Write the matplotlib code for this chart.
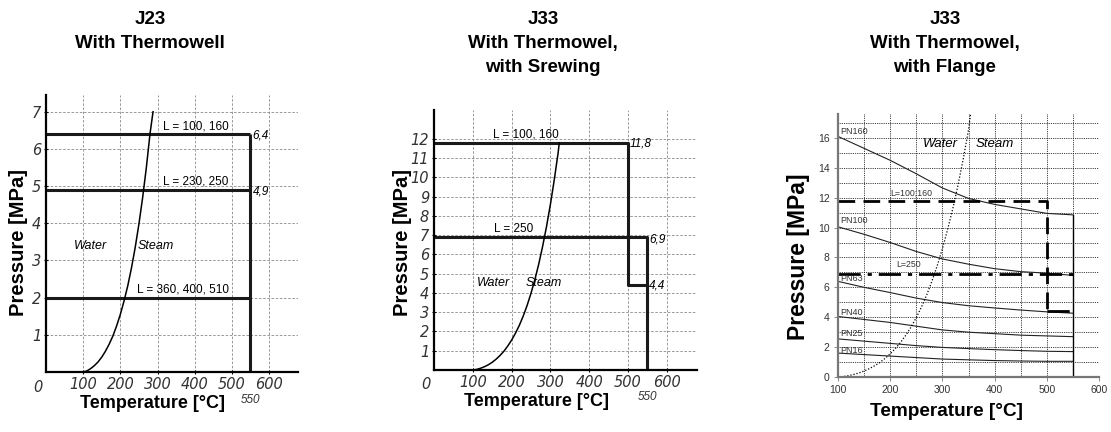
import numpy as np
import matplotlib
matplotlib.use("Agg")
import matplotlib.pyplot as plt

plt.rcParams['font.family'] = ['Liberation Sans', 'DejaVu Sans']

# saturation curve (water / steam boundary)
sat_T = [100, 110, 120, 130, 140, 150, 160, 170, 180, 190, 200, 210, 220, 230,
         240, 250, 260, 270, 280, 290, 300, 310, 320, 330, 340, 350]
sat_p = [0.0, 0.03, 0.09, 0.17, 0.27, 0.40, 0.56, 0.75, 0.97, 1.24, 1.55, 1.91,
         2.32, 2.80, 3.35, 3.98, 4.69, 5.50, 6.42, 7.44, 8.59, 9.87, 11.28,
         12.86, 14.60, 16.53]

# J23
j23_limits = [6.4, 4.9, 2.0]
j23_labels = ["L = 100, 160", "L = 230, 250", "L = 360, 400, 510"]
j23_values = ["6,4", "4,9"]
j23_tmax = 550
j23_curve_end = (288, 7.0)

# J33 screwed
j33s_T_a = [0, 500, 500, 550]
j33s_p_a = [11.8, 11.8, 4.4, 4.4]
j33s_T_b = [0, 550, 550]
j33s_p_b = [6.9, 6.9, 0]
j33s_curve_end = (323, 11.8)

# J33 flange
pn_T = [100, 150, 200, 250, 300, 350, 400, 450, 500, 550]
pn_names = ["PN160", "PN100", "PN63", "PN40", "PN25", "PN16"]
pn_p = [
    [16.1, 15.3, 14.5, 13.6, 12.65, 11.95, 11.55, 11.25, 10.95, 10.85],
    [10.05, 9.55, 9.0, 8.4, 7.9, 7.55, 7.25, 7.05, 6.95, 6.8],
    [6.4, 6.0, 5.65, 5.28, 4.98, 4.77, 4.62, 4.48, 4.36, 4.27],
    [4.05, 3.85, 3.65, 3.4, 3.15, 3.0, 2.9, 2.8, 2.75, 2.7],
    [2.55, 2.4, 2.25, 2.1, 1.98, 1.9, 1.83, 1.77, 1.72, 1.7],
    [1.6, 1.5, 1.4, 1.3, 1.2, 1.15, 1.1, 1.07, 1.05, 1.05],
]
pn_label_p = [16.45, 10.45, 6.6, 4.3, 2.9, 1.8]
fl_T_a = [100, 500, 500]
fl_p_a = [11.8, 11.8, 4.4]
fl_T_b = [100, 550]
fl_p_b = [6.9, 6.9]
fl_T_c = [500, 550]
fl_p_c = [4.4, 4.4]
fl_curve_end = (354, 17.6)

W, H = 1111, 432
fig = plt.figure(figsize=(W / 100, H / 100), dpi=100)
TICKFONT = dict(family='DejaVu Sans', style='italic', size=10.5)


def box(l, r, top, bot):
    return [l / W, (H - bot) / H, (r - l) / W, (bot - top) / H]


def curve_to(end):
    T = [t for t, p in zip(sat_T, sat_p) if p < end[1]] + [end[0]]
    P = [p for p in sat_p if p < end[1]] + [end[1]]
    return T, P


def style_simple(ax, xmax, ymax, yticks):
    ax.set_xlim(0, xmax)
    ax.set_ylim(0, ymax)
    for s in ['top', 'right']:
        ax.spines[s].set_visible(False)
    for s in ['left', 'bottom']:
        ax.spines[s].set_linewidth(1.6)
    ax.set_xticks([100, 200, 300, 400, 500, 600])
    ax.set_yticks(yticks)
    ax.grid(True, color='#888888', linestyle=(0, (3, 2)), linewidth=0.6)
    ax.tick_params(length=3, direction='inout', width=0.8, pad=2)
    for lab in ax.get_xticklabels() + ax.get_yticklabels():
        lab.set_fontproperties(TICKFONT)
        lab.set_color('#333333')
    ax.text(-0.015, -0.028, "0", transform=ax.transAxes, ha='right', va='top',
            color='#333333', **TICKFONT)
    ax.text(550, -0.08, "550", transform=ax.get_xaxis_transform(),
            ha='center', va='top', fontsize=8.5, style='italic', color='#333333')


# ---- J23 ----
ax1 = fig.add_axes(box(46, 298, 95, 372))
style_simple(ax1, 678, 7.45, [1, 2, 3, 4, 5, 6, 7])
for p in j23_limits:
    ax1.plot([0, j23_tmax], [p, p], color='#1a1a1a', lw=2.2, solid_capstyle='butt')
ax1.plot([j23_tmax, j23_tmax], [0, j23_limits[0]], color='#1a1a1a', lw=2.2,
         solid_capstyle='butt')
cT, cP = curve_to(j23_curve_end)
ax1.plot(cT, cP, color='black', lw=1.1)
for p, lab in zip(j23_limits, j23_labels):
    ax1.text(492, p + 0.05, lab, ha='right', va='bottom', fontsize=8.5)
for p, lab in zip(j23_limits, j23_values):
    ax1.text(556, p - 0.05, lab, ha='left', va='center', fontsize=8.5, style='italic')
ax1.text(120, 3.4, "Water", ha='center', va='center', fontsize=9, style='italic')
ax1.text(295, 3.4, "Steam", ha='center', va='center', fontsize=9, style='italic')

# ---- J33 screwed ----
ax2 = fig.add_axes(box(434, 697, 110, 370))
style_simple(ax2, 678, 13.5, list(range(1, 13)))
ax2.plot(j33s_T_a, j33s_p_a, color='#1a1a1a', lw=2.2)
ax2.plot(j33s_T_b, j33s_p_b, color='#1a1a1a', lw=2.2)
cT, cP = curve_to(j33s_curve_end)
ax2.plot(cT, cP, color='black', lw=1.1)
ax2.text(237, 11.9, "L = 100, 160", ha='center', va='bottom', fontsize=8.5)
ax2.text(205, 7.0, "L = 250", ha='center', va='bottom', fontsize=8.5)
ax2.text(505, 11.75, "11,8", ha='left', va='center', fontsize=8.5, style='italic')
ax2.text(555, 6.8, "6,9", ha='left', va='center', fontsize=8.5, style='italic')
ax2.text(555, 4.4, "4,4", ha='left', va='center', fontsize=8.5, style='italic')
ax2.text(153, 4.5, "Water", ha='center', va='center', fontsize=9, style='italic')
ax2.text(283, 4.5, "Steam", ha='center', va='center', fontsize=9, style='italic')

# ---- J33 flange ----
ax3 = fig.add_axes(box(838, 1099, 114, 377))
ax3.set_xlim(100, 600)
ax3.set_ylim(0, 17.6)
for s in ['top', 'right']:
    ax3.spines[s].set_visible(False)
for s in ['left', 'bottom']:
    ax3.spines[s].set_linewidth(1.6)
    ax3.spines[s].set_color('#777777')
ax3.set_xticks([100, 200, 300, 400, 500, 600])
ax3.set_xticks([150, 250, 350, 450, 550], minor=True)
ax3.set_yticks(list(range(0, 17, 2)))
ax3.set_yticks(list(range(1, 18, 2)), minor=True)
ax3.grid(True, which='both', color='black', linestyle=(0, (1, 1.2)), linewidth=0.6)
ax3.tick_params(which='major', length=3, width=0.6, labelsize=7.5,
                labelcolor='#333333', color='#777777', pad=3)
ax3.tick_params(which='minor', length=0)
for name, vals, lp in zip(pn_names, pn_p, pn_label_p):
    ax3.plot(pn_T, vals, color='#222222', lw=0.8)
    ax3.text(105, lp, name, ha='left', va='center', fontsize=6.5, color='#333333')
ax3.plot([pn_T[-1], pn_T[-1]], [0, pn_p[0][-1]], color='black', lw=1.0)
ax3.plot(fl_T_a, fl_p_a, color='black', lw=2.0, linestyle=(0, (6, 3)))
ax3.plot(fl_T_b, fl_p_b, color='black', lw=2.0, linestyle=(0, (8, 2.5, 1.5, 2.5)))
ax3.plot(fl_T_c, fl_p_c, color='black', lw=2.0, linestyle=(0, (8, 2.5, 1.5, 2.5)))
cT, cP = curve_to(fl_curve_end)
ax3.plot(cT, cP, color='black', lw=0.9, linestyle=(0, (1, 1.5)))
ax3.text(240, 12.0, "L=100;160", ha='center', va='bottom', fontsize=6.3, color='#333333')
ax3.text(236, 7.2, "L=250", ha='center', va='bottom', fontsize=6.3, color='#333333')
ax3.text(296, 15.6, "Water", ha='center', va='center', fontsize=9.5, style='italic')
ax3.text(400, 15.6, "Steam", ha='center', va='center', fontsize=9.5, style='italic')

# axis titles
fig.text(19 / W, 1 - 243 / H, "Pressure [MPa]", rotation=90, ha='center', va='center',
         fontsize=14.5, fontweight='bold')
fig.text(403 / W, 1 - 242 / H, "Pressure [MPa]", rotation=90, ha='center', va='center',
         fontsize=14.5, fontweight='bold')
fig.text(799 / W, 1 - 257 / H, "Pressure [MPa]", rotation=90, ha='center', va='center',
         fontsize=16.5, fontweight='bold')
fig.text(153 / W, 1 - 403 / H, "Temperature [°C]", ha='center', va='center',
         fontsize=13, fontweight='bold')
fig.text(537 / W, 1 - 402 / H, "Temperature [°C]", ha='center', va='center',
         fontsize=13, fontweight='bold')
fig.text(947 / W, 1 - 411 / H, "Temperature [°C]", ha='center', va='center',
         fontsize=13.7, fontweight='bold')

# panel titles
TITLE = dict(ha='center', va='top', fontsize=13.5, fontweight='bold', linespacing=1.52)
fig.text(150 / W, 1 - 11 / H, "J23\nWith Thermowell", **TITLE)
fig.text(543 / W, 1 - 11 / H, "J33\nWith Thermowel,\nwith Srewing", **TITLE)
fig.text(945 / W, 1 - 11 / H, "J33\nWith Thermowel,\nwith Flange", **TITLE)

fig.savefig("out.png", dpi=100)
